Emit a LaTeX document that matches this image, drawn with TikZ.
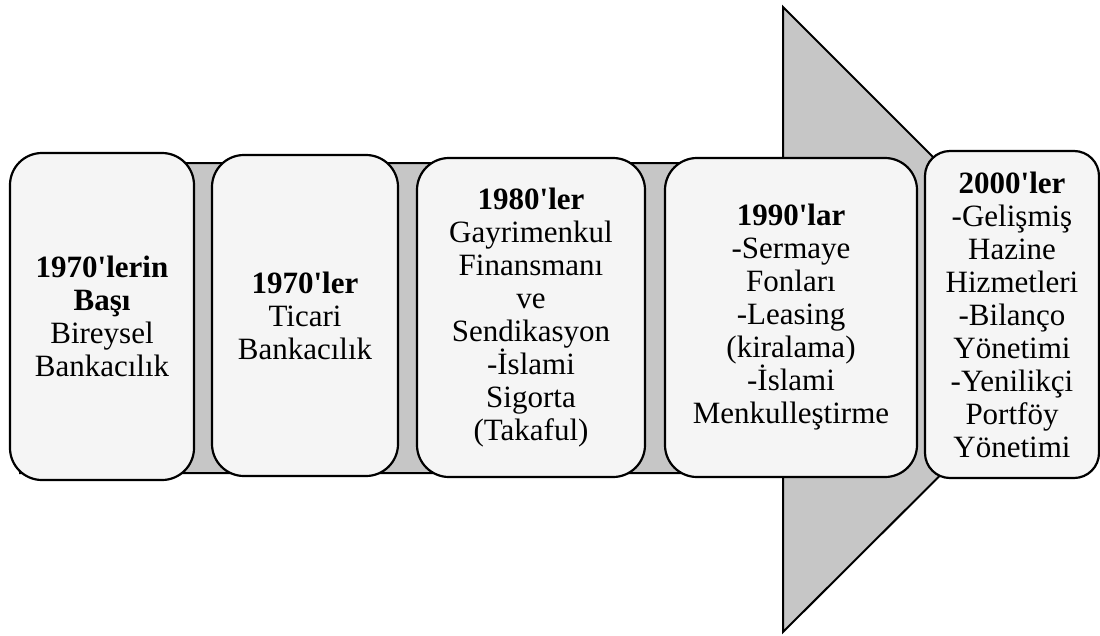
\documentclass[tikz,border=0pt]{standalone}
\usepackage{fontspec}
\setmainfont{Liberation Serif}
\definecolor{arrowgray}{RGB}{198,198,198}
\definecolor{boxfill}{RGB}{245,245,245}
\newcommand{\ap}{\textquotesingle}
\tikzset{
  period/.style={draw=black, line width=2.2pt, fill=boxfill,
    rounded corners=32pt, align=center, inner sep=0pt,
    font=\fontsize{31}{33}\selectfont},
  bigarrow/.style={draw=black, line width=2pt, fill=arrowgray, line join=miter}
}
\begin{document}
\begin{tikzpicture}[x=1pt,y=-1pt]
  \useasboundingbox (0,0) rectangle (1100,635);

  % timeline arrow behind the boxes
  \coordinate (tail top) at (20,163);
  \coordinate (neck top) at (783,163);
  \coordinate (barb top) at (783,7);
  \coordinate (tip) at (1096,320);
  \coordinate (barb bottom) at (783,632);
  \coordinate (neck bottom) at (783,473);
  \coordinate (tail bottom) at (20,473);
  \draw[bigarrow] (tail top) -- (neck top) -- (barb top) -- (tip)
    -- (barb bottom) -- (neck bottom) -- (tail bottom) -- cycle;

  % periods
  \node[period, minimum width=184pt, minimum height=327pt] (p1) at (102,316.5)
    {\textbf{1970\ap lerin}\\\textbf{Başı}\\Bireysel\\Bankacılık};
  \node[period, minimum width=186pt, minimum height=321pt] (p2) at (305,315.5)
    {\textbf{1970\ap ler}\\Ticari\\Bankacılık};
  \node[period, minimum width=228pt, minimum height=319pt] (p3) at (531,317.5)
    {\textbf{1980\ap ler}\\Gayrimenkul\\Finansmanı\\ve\\Sendikasyon\\-İslami\\Sigorta\\(Takaful)};
  \node[period, minimum width=252pt, minimum height=319pt] (p4) at (791,317.5)
    {\textbf{1990\ap lar}\\-Sermaye\\Fonları\\-Leasing\\(kiralama)\\-İslami\\Menkulleştirme};
  \node[period, rounded corners=25pt, minimum width=174pt, minimum height=327pt] (p5) at (1012,314.5)
    {\textbf{2000\ap ler}\\-Gelişmiş\\Hazine\\Hizmetleri\\-Bilanço\\Yönetimi\\-Yenilikçi\\Portföy\\Yönetimi};
\end{tikzpicture}
\end{document}
